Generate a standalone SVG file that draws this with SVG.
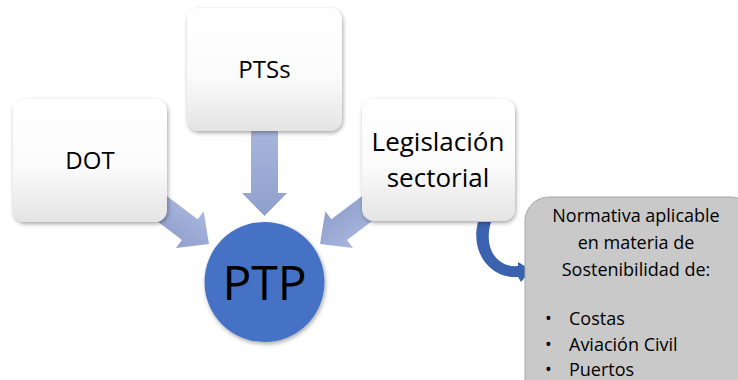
<svg xmlns="http://www.w3.org/2000/svg" width="738" height="380" viewBox="0 0 738 380">
<style>
.t{font-family:"Open Sans","Liberation Sans",sans-serif;fill:#000;text-anchor:middle}
.box{fill:url(#wg)}
.ar{fill:url(#ag)}
</style>
<defs>
<linearGradient id="wg" x1="0" y1="0" x2="0" y2="1">
<stop offset="0" stop-color="#ffffff"/><stop offset="0.55" stop-color="#fbfbfb"/><stop offset="1" stop-color="#e4e4e4"/>
</linearGradient>
<linearGradient id="ag" x1="0" y1="0" x2="0" y2="1">
<stop offset="0" stop-color="#a9b7de"/><stop offset="1" stop-color="#8f9fcc"/>
</linearGradient>
<filter id="sh" x="-20%" y="-20%" width="140%" height="140%">
<feDropShadow dx="1" dy="2" stdDeviation="2" flood-color="#000" flood-opacity="0.35"/>
</filter>
</defs>
<rect width="738" height="380" fill="#fff"/>
<g id="connectors">
<path class="ar" d="M251,128 H278 V193 H287 L264.5,216 L242,193 H251 Z"/>
<g transform="translate(209,244) rotate(37)"><path class="ar" d="M0,0 L-24,-23 V-13 H-85 V13 H-24 V23 Z"/></g>
<g transform="translate(320,244) rotate(143)"><path class="ar" d="M0,0 L-24,-23 V-13 H-85 V13 H-24 V23 Z"/></g>
<path d="M478,222 C470,252 490,279 518,277 L521,282 L531,270 L518,262 L518,266 C497,268 483,248 491,222 Z" fill="#3a62ae"/>
</g>
<g id="dot"><rect class="box" x="13" y="99" width="154" height="123" rx="12" filter="url(#sh)"/><text class="t" x="90" y="169" font-size="24">DOT</text></g>
<g id="ptss"><rect class="box" x="187" y="8" width="155" height="123" rx="12" filter="url(#sh)"/><text class="t" x="264.5" y="78" font-size="24">PTSs</text></g>
<g id="leg"><rect class="box" x="362" y="99" width="153" height="122" rx="12" filter="url(#sh)"/><text class="t" x="438" y="151" font-size="26">Legislación</text><text class="t" x="438" y="187" font-size="26">sectorial</text></g>
<g id="ptp"><circle cx="264.5" cy="282" r="60" fill="#4472c4" filter="url(#sh)"/><text class="t" x="264.5" y="300" font-size="48">PTP</text></g>
<g id="norm"><rect x="525" y="197" width="230" height="220" rx="24" fill="#c9c9c9" stroke="#a8a8a8" stroke-width="1"/>
<text class="t" x="636" y="222" font-size="18">Normativa aplicable</text>
<text class="t" x="636" y="249" font-size="18">en materia de</text>
<text class="t" x="636" y="276" font-size="18">Sostenibilidad de:</text>
<g font-family="Open Sans,Liberation Sans,sans-serif" font-size="18">
<text x="545" y="325">•</text><text x="569" y="325">Costas</text>
<text x="545" y="351">•</text><text x="569" y="351">Aviación Civil</text>
<text x="545" y="376">•</text><text x="569" y="376">Puertos</text>
</g></g>
</svg>
